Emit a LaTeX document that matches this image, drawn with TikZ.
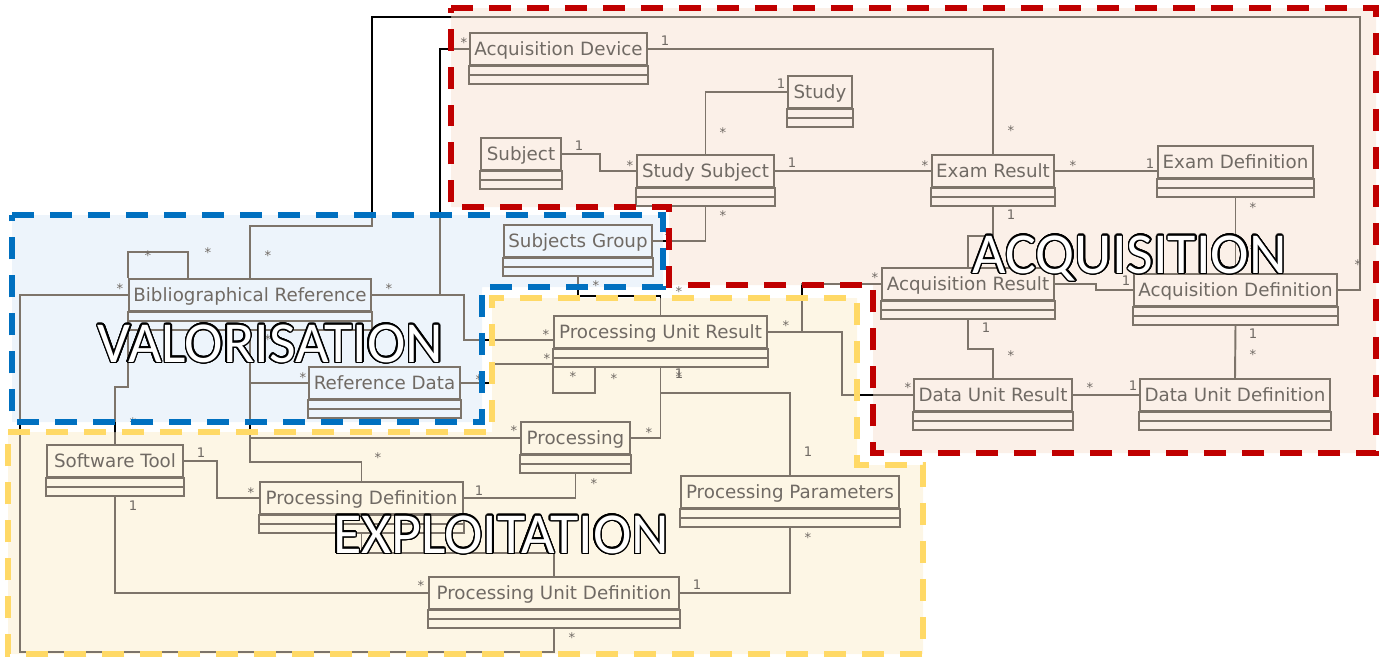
\documentclass[tikz,border=0pt]{standalone}
\usepackage{fontspec}
\setmainfont{DejaVu Sans}
\newfontfamily\titlefont{Carlito}
\usepackage[copies]{contour}
\contourlength{0.8pt}
\contournumber{24}
\usepackage{tikz}
\usetikzlibrary{calc}

\definecolor{ln}{RGB}{125,116,106}
\definecolor{txt}{RGB}{112,106,100}
\definecolor{acqfill}{RGB}{251,240,232}
\definecolor{valfill}{RGB}{237,244,251}
\definecolor{expfill}{RGB}{253,246,229}
\definecolor{acqline}{RGB}{192,0,0}
\definecolor{valline}{RGB}{0,112,192}
\definecolor{expline}{RGB}{255,217,102}

\tikzset{
  cls/.style={draw=ln, line width=1.1pt, inner sep=0pt, minimum height=0.64cm,
    text=txt, font=\fontsize{10.4}{12}\selectfont, text height=7.6pt, text depth=0pt},
  box/.style={draw=ln, line width=1.1pt},
  link/.style={draw=ln, line width=1.1pt},
  mult/.style={text=txt, inner sep=0pt, font=\fontsize{7.5}{8}\selectfont,
    text height=5.4pt, text depth=0pt},
  zone/.style={line width=3pt, dash pattern=on 0.44cm off 0.32cm},
  title/.style={text=white, font=\titlefont\fontsize{33}{36}\selectfont, anchor=base}
}

% class box: name, centre of name row, width (px), text
\newcommand{\umlclass}[4]{%
  \node[cls, minimum width=0.02cm*#3] (#1) at (#2) {#4};
  \draw[box] (#1.south west) rectangle ([yshift=-0.36cm]#1.south east);
  \draw[box] ([yshift=-0.18cm]#1.south west) -- ([yshift=-0.18cm]#1.south east);
  \coordinate (#1-s) at ([yshift=-0.36cm]#1.south);
}
\newcommand{\mstar}{\raisebox{-0.2em}{*}}

% zones
\newcommand{\acqzone}{(451,8) -- (1376,8) -- (1376,453) -- (873,453) -- (873,285) -- (669,285) -- (669,207) -- (451,207) -- cycle}
\newcommand{\valzone}{(12,215) -- (663,215) -- (663,287) -- (482,287) -- (482,422) -- (12,422) -- cycle}
\newcommand{\expzone}{(8,432) -- (492,432) -- (492,298) -- (857,298) -- (857,465) -- (923,465) -- (923,654) -- (8,654) -- cycle}

% associations
\newcommand{\links}{%
  \draw[link] (acqdev.east) -| (examres.north);
  \draw[link] (study.west) -| (stsub.north);
  \draw[link] (subject.east) -- ++(38,0) |- (stsub.west);
  \draw[link] (stsub.east) -- (examres.west);
  \draw[link] (examres.east) -- (examres.east -| examdef.west);
  \draw[link] (examdef-s) -- (acqdef.north);
  \draw[link] (examres-s) -- ++(0,30) -| (acqres.north);
  \draw[link] (acqres.east) -- ++(41,0) |- (acqdef.west);
  \draw[link] (acqres-s) -- ++(0,30) -| (dur.north);
  \draw[link] (dur.east) -- (dud.west);
  \draw[link] (acqdef-s) -- (dud.north);
  \draw[link] (acqdef.east) -| (1360,17) -| (372,226) -| (bibref.north);
  \draw[link] (acqdev.west) -- ++(-29,0) |- (bibref.east);
  \draw[link] (bibref.east) -- ++(92,0) |- ($(pur.west)+(0,8)$);
  \draw[link] (bibref.north west) -- ++(0,-26) -- ++(60,0) -- ++(0,26);
  \draw[link] (bibref.west) -| (20,652) -| (pud-s);
  \draw[link] (bibref-s -| bibref.west) -- ++(0,57) -| (swtool.north);
  \draw[link] (bibref-s) |- (refdata.west);
  \draw[link] (bibref-s) |- (proc.west);
  \draw[link] (bibref-s) -- ++(0,132) -| (procdef.north);
  \draw[link] (refdata.east) -- ++(33,0) |- ($(pur.west)+(0,32)$);
  \draw[link] (subjgrp.east) -| (stsub-s);
  \draw[link] (subjgrp-s) -- ++(0,20) -| (pur.north);
  \draw[link] (pur.east) -- ++(34,0) |- (acqres.west);
  \draw[link] (pur.east) -- ++(74,0) |- (dur.west);
  \draw[link] ($(pur.south west)+(0,18)$) -- ++(0,26) -- ++(42,0) -- ++(0,-26);
  \draw[link] (pur-s) |- (proc.east);
  \draw[link] (pur-s) -- ++(0,26) -| (procpar.north);
  \draw[link] (proc-s) |- (procdef.east);
  \draw[link] (swtool.east) -- ++(33,0) |- (procdef.west);
  \draw[link] (swtool-s) |- (pud.west);
  \draw[link] (procdef-s) -- ++(0,20) -| (pud.north);
  \draw[link] (pud.east) -| (procpar-s);
}

\begin{document}
\begin{tikzpicture}[x=0.02cm, y=-0.02cm]
  \useasboundingbox (0,0) rectangle (1386,657);
  \fill[acqfill] \acqzone;
  \fill[valfill] \valzone;
  \fill[expfill] \expzone;

  % acquisition
  \umlclass{acqdev}{558.5,49}{177}{Acquisition Device}
  \umlclass{study}{820,92}{64}{Study}
  \umlclass{subject}{521,154}{80}{Subject}
  \umlclass{stsub}{705.5,171}{137}{Study Subject}
  \umlclass{examres}{993,171}{122}{Exam Result}
  \umlclass{examdef}{1235.5,162}{155}{Exam Definition}
  \umlclass{acqres}{968,284}{172}{Acquisition Result}
  \umlclass{acqdef}{1235.5,290}{203}{Acquisition Definition}
  \umlclass{dur}{993,395}{158}{Data Unit Result}
  \umlclass{dud}{1235,395}{190}{Data Unit Definition}
  % valorisation
  \umlclass{bibref}{250,295}{242}{Bibliographical Reference}
  \umlclass{refdata}{384.5,383}{151}{Reference Data}
  \umlclass{subjgrp}{578,241}{148}{Subjects Group}
  % exploitation
  \umlclass{pur}{660.5,332}{213}{Processing Unit Result}
  \umlclass{proc}{575.5,438}{109}{Processing}
  \umlclass{swtool}{115,461}{136}{Software Tool}
  \umlclass{procdef}{361.5,498}{203}{Processing Definition}
  \umlclass{procpar}{790,492}{218}{Processing Parameters}
  \umlclass{pud}{554,593}{250}{Processing Unit Definition}

  \links
  \begin{scope}[even odd rule, link/.style={draw=black, line width=1.1pt}]
    \clip (0,0) rectangle (1386,657) \acqzone \valzone \expzone;
    \links
  \end{scope}

  \foreach \x/\y/\t [count=\i] in {665/41/1, 1011/128/\mstar, 464/40/\mstar, 781/84/1,
      723/130/\mstar, 579/146/1, 630/163/\mstar, 792/163/1, 925/163/\mstar,
      1073/163/\mstar, 1150/164/1, 1253/205/\mstar, 1253/247/\mstar, 1011/215/1,
      1126/281/1, 986/328/1, 1011/353/\mstar, 1090/385/\mstar, 1133/386/1,
      1253/334/1, 1253/352/\mstar, 1358/262/\mstar, 268/253/\mstar, 389/286/\mstar,
      120/286/\mstar, 148/253/\mstar, 208/250/\mstar, 268/337/\mstar, 303/375/\mstar,
      479/377/\mstar, 546/332/\mstar, 547/356/\mstar, 668/233/\mstar, 723/213/\mstar,
      596/283/\mstar, 679/289/\mstar, 786/323/\mstar, 875/275/\mstar, 908/385/\mstar,
      573/374/\mstar, 614/376/\mstar, 679/374/\mstar, 679/374/1, 649/430/\mstar,
      514/428/\mstar, 808/452/1, 594/481/\mstar, 479/491/1, 378/455/\mstar,
      201/453/1, 251/490/\mstar, 133/506/1, 421/583/\mstar, 697/585/1,
      808/535/\mstar, 572/635/\mstar, 133/420/\mstar, 378/540/\mstar}
    \node[mult] (m\i) at (\x,\y) {\t};

  \draw[zone, acqline] \acqzone;
  \draw[zone, valline] \valzone;
  \draw[zone, expline] \expzone;

  \node[title] (valtitle) at (270.5,362) {\contour{black}{VALORISATION}};
  \node[title] (acqtitle) at (1129.5,273) {\contour{black}{ACQUISITION}};
  \node[title] (exptitle) at (501,553) {\contour{black}{EXPLOITATION}};
\end{tikzpicture}
\end{document}
